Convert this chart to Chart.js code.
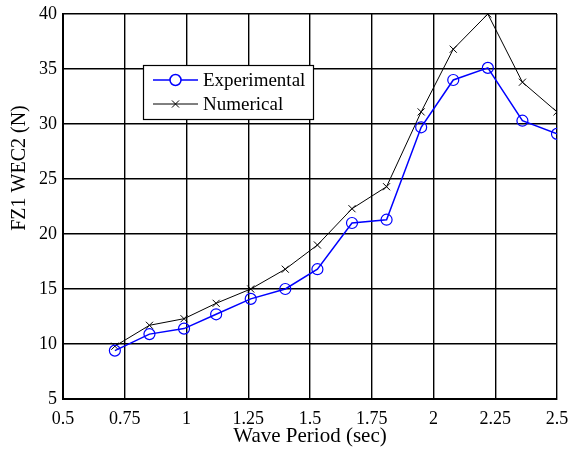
<!DOCTYPE html>
<html>
<head>
<meta charset="utf-8">
<script src="https://cdn.jsdelivr.net/npm/chart.js@4/dist/chart.umd.min.js"></script>
<style>
  body { margin: 0; background: #fff; }
</style>
</head>
<body>
<canvas id="fzChart" width="569" height="454"></canvas>
<script>
var periods = [0.71, 0.85, 0.99, 1.12, 1.26, 1.4, 1.53, 1.67, 1.81, 1.95, 2.08, 2.22, 2.36, 2.5];
var experimental = [9.4, 10.9, 11.4, 12.7, 14.1, 15.0, 16.8, 21.0, 21.3, 29.7, 34.0, 35.1, 30.3, 29.1];
var numerical = [9.8, 11.7, 12.3, 13.7, 15.0, 16.8, 19.0, 22.3, 24.3, 31.1, 36.8, 40.0, 33.8, 31.1];
var xTicks = [0.5, 0.75, 1, 1.25, 1.5, 1.75, 2, 2.25, 2.5];
var yTicks = [5, 10, 15, 20, 25, 30, 35, 40];

function toPoints(ys) {
    return periods.map(function (x, i) { return { x: x, y: ys[i] }; });
}

// legend box and rotated y title, drawn by hand like the matlab figure
var figureExtras = {
    id: 'figureExtras',
    afterDraw: function (chart) {
        var ctx = chart.ctx;
        ctx.save();
        ctx.font = '20px "Liberation Serif"';
        ctx.fillStyle = '#000';
        ctx.translate(20, 168);
        ctx.rotate(-Math.PI / 2);
        ctx.textAlign = 'center';
        ctx.textBaseline = 'middle';
        ctx.fillText('FZ1 WEC2 (N)', 0, 0);
        ctx.restore();

        ctx.save();
        ctx.fillStyle = '#fff';
        ctx.fillRect(143.5, 65.5, 170, 54);
        ctx.strokeStyle = '#000';
        ctx.lineWidth = 1.2;
        ctx.strokeRect(143.5, 65.5, 170, 54);
        chart.data.datasets.forEach(function (ds, i) {
            var y = 80 + i * 24;
            ctx.strokeStyle = ds.borderColor;
            ctx.lineWidth = ds.borderWidth;
            ctx.beginPath();
            ctx.moveTo(153, y);
            ctx.lineTo(198, y);
            ctx.stroke();
            Chart.helpers.drawPoint(ctx, {
                pointStyle: ds.pointStyle,
                radius: ds.pointRadius,
                borderWidth: ds.pointBorderWidth
            }, 175.5, y);
            ctx.fillStyle = '#000';
            ctx.font = '19px "Liberation Serif"';
            ctx.textAlign = 'left';
            ctx.textBaseline = 'middle';
            ctx.fillText(ds.label, 203, y + 1);
        });
        ctx.restore();
    }
};

var fzCtx = document.getElementById('fzChart').getContext('2d');
var fzChart = new Chart(fzCtx, {
    type: 'scatter',
    data: {
        datasets: [{
            label: 'Experimental',
            data: toPoints(experimental),
            showLine: true,
            borderColor: '#0000ff',
            borderWidth: 1.5,
            pointStyle: 'circle',
            pointRadius: 5.5,
            pointBorderWidth: 1.2,
            pointBorderColor: '#0000ff',
            pointBackgroundColor: 'rgba(0,0,0,0)'
        }, {
            label: 'Numerical',
            data: toPoints(numerical),
            showLine: true,
            borderColor: '#000000',
            borderWidth: 1,
            pointStyle: 'crossRot',
            pointRadius: 5,
            pointBorderWidth: 1,
            pointBorderColor: '#000000'
        }]
    },
    options: {
        responsive: false,
        animation: false,
        layout: {
            padding: { left: 0, top: 14, right: 12, bottom: 0 }
        },
        scales: {
            x: {
                type: 'linear',
                min: 0.5,
                max: 2.5,
                afterBuildTicks: function (scale) {
                    scale.ticks = xTicks.map(function (v) { return { value: v }; });
                },
                afterFit: function (scale) {
                    scale.height = 55;
                    scale.paddingLeft = 0;
                    scale.paddingRight = 0;
                },
                grid: { color: '#000', lineWidth: 1.4, drawTicks: false },
                border: { color: '#000', width: 2 },
                ticks: {
                    color: '#000',
                    padding: 9,
                    maxRotation: 0,
                    autoSkip: false,
                    font: { family: 'Liberation Serif', size: 18 },
                    callback: function (v) { return String(v); }
                },
                title: {
                    display: true,
                    text: 'Wave Period (sec)',
                    color: '#000',
                    padding: { top: 0, bottom: 5 },
                    font: { family: 'Liberation Serif', size: 21 }
                }
            },
            y: {
                min: 5,
                max: 40,
                afterBuildTicks: function (scale) {
                    scale.ticks = yTicks.map(function (v) { return { value: v }; });
                },
                afterFit: function (scale) {
                    scale.width = 63;
                    scale.paddingTop = 0;
                    scale.paddingBottom = 0;
                },
                grid: { color: '#000', lineWidth: 1.4, drawTicks: false },
                border: { color: '#000', width: 2 },
                ticks: {
                    color: '#000',
                    padding: 6,
                    autoSkip: false,
                    font: { family: 'Liberation Serif', size: 18 },
                    callback: function (v) { return String(v); }
                }
            }
        },
        plugins: {
            legend: { display: false },
            tooltip: { enabled: false }
        }
    },
    plugins: [figureExtras]
});
</script>
</body>
</html>
